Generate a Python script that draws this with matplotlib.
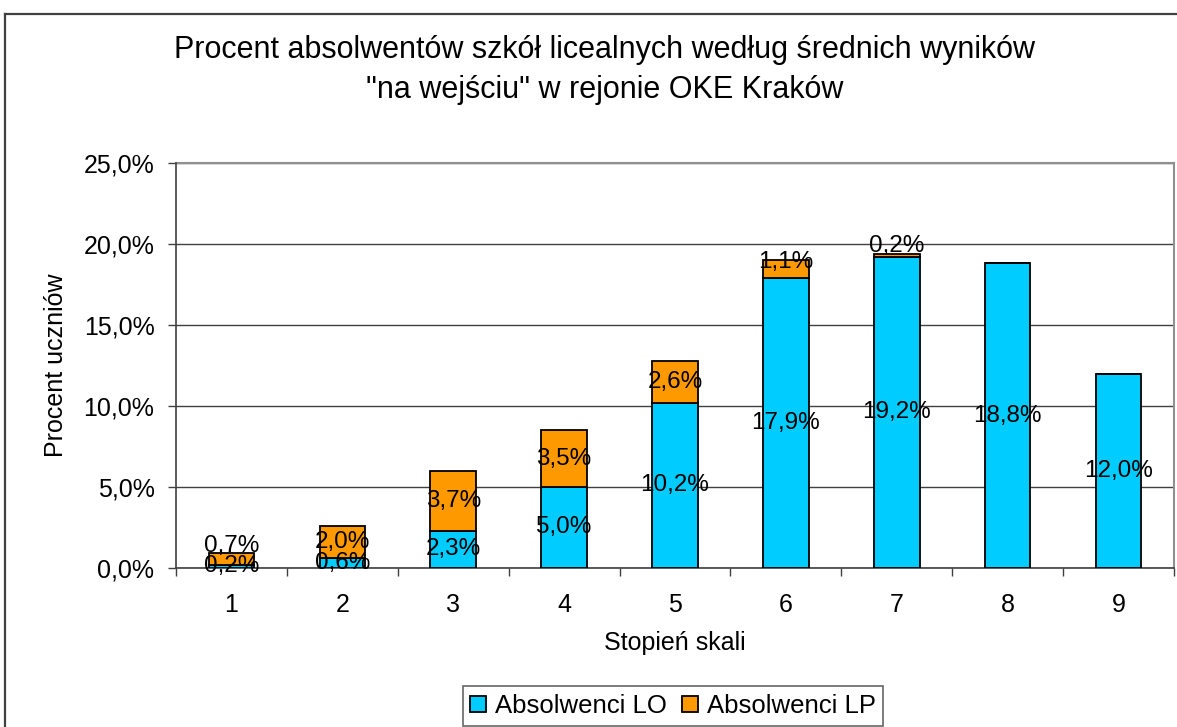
import numpy as np
import matplotlib.pyplot as plt
from matplotlib.lines import Line2D

plt.rcParams['font.family'] = ['Liberation Sans', 'DejaVu Sans']

stopnie = ['1', '2', '3', '4', '5', '6', '7', '8', '9']
absolwenci_lo = [0.2, 0.6, 2.3, 5.0, 10.2, 17.9, 19.2, 18.8, 12.0]
absolwenci_lp = [0.7, 2.0, 3.7, 3.5, 2.6, 1.1, 0.2, 0.0, 0.0]

kolor_lo = '#00CCFF'
kolor_lp = '#FF9900'


def fmt(v):
    return ('%.1f%%' % v).replace('.', ',')


fig = plt.figure(figsize=(11.77, 7.27), dpi=100)

# outer frame of the chart object
fig.add_artist(Line2D([5 / 1177, 5 / 1177], [0, 1 - 14 / 727], transform=fig.transFigure,
                      color='#404040', lw=1.6))
fig.add_artist(Line2D([5 / 1177, 1], [1 - 14 / 727, 1 - 14 / 727], transform=fig.transFigure,
                      color='#404040', lw=1.6))

ax = fig.add_axes([176 / 1177, 1 - 568 / 727, (1174 - 176) / 1177, (568 - 163) / 727])

x = np.arange(len(stopnie))
w = 0.41
ax.bar(x, absolwenci_lo, w, color=kolor_lo, edgecolor='black', lw=1.3, label='Absolwenci LO', zorder=3)
ax.bar(x, absolwenci_lp, w, bottom=absolwenci_lo, color=kolor_lp, edgecolor='black', lw=1.3,
       label='Absolwenci LP', zorder=3)

for i in range(len(stopnie)):
    lo = absolwenci_lo[i]
    lp = absolwenci_lp[i]
    ax.text(x[i], lo / 2, fmt(lo), ha='center', va='center', fontsize=17.5, zorder=5)
    if lp > 0:
        y = lo + lp / 2
        if lp < 1.0:
            y = lo + lp + 0.45
        elif lp < 1.5:
            y = lo + lp * 0.9
        ax.text(x[i], y, fmt(lp), ha='center', va='center', fontsize=17.5, zorder=5)

ax.set_xlim(-0.5, len(stopnie) - 0.5)
ax.set_ylim(0, 25)
ax.set_yticks([0, 5, 10, 15, 20, 25])
ax.set_yticklabels([fmt(v) for v in [0, 5, 10, 15, 20, 25]])
ax.set_xticks(x)
ax.set_xticklabels(stopnie)
ax.set_xticks(np.arange(-0.5, len(stopnie), 1), minor=True)
ax.tick_params(axis='x', which='major', length=0, pad=18, labelsize=18)
ax.tick_params(axis='x', which='minor', length=5.5, width=1, color='#404040')
ax.tick_params(axis='y', length=5.5, width=1, color='#404040', pad=10, labelsize=18)

ax.grid(axis='y', color='#404040', lw=1, zorder=0)
for s in ['top', 'right']:
    ax.spines[s].set_color('#909090')
    ax.spines[s].set_linewidth(1.5)
for s in ['left', 'bottom']:
    ax.spines[s].set_color('#404040')
    ax.spines[s].set_linewidth(1.2)
ax.spines['left'].set_zorder(4)

ax.set_xlabel('Stopień skali', fontsize=18, labelpad=10)
ax.set_ylabel('Procent uczniów', fontsize=18, labelpad=11)

fig.text(0.514, 1 - 70 / 727,
         'Procent absolwentów szkół licealnych według średnich wyników\n"na wejściu" w rejonie OKE Kraków',
         ha='center', va='center', fontsize=22, linespacing=1.45)

leg = fig.legend(loc='center', bbox_to_anchor=(673 / 1177, 1 - 706 / 727), ncol=2, fontsize=18.5,
                 frameon=True, fancybox=False, edgecolor='#404040', handlelength=0.6,
                 handleheight=0.6, handletextpad=0.35, columnspacing=0.6, borderpad=0.3)
leg.get_frame().set_linewidth(1.2)

fig.savefig('out.png', dpi=100)
